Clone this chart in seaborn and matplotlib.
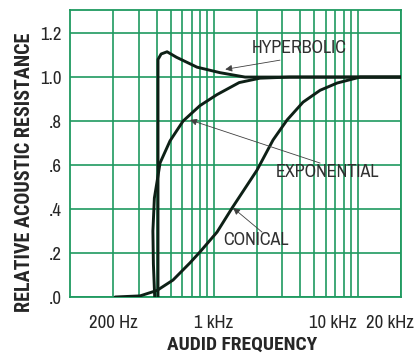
import numpy as np
import pandas as pd
import matplotlib
matplotlib.use("Agg")
import matplotlib.pyplot as plt
import matplotlib.transforms as mtransforms
import seaborn as sns

# Relative acoustic resistance of three horn flares vs. frequency (Hz)
conical_freq = [206, 307, 403, 520, 682, 801, 1052, 1340, 1996, 2580, 3230, 4170, 5480, 7200, 10400, 20000]
conical_res = [0.0, 0.005, 0.03, 0.077, 0.155, 0.205, 0.295, 0.405, 0.577, 0.714, 0.805, 0.886, 0.94, 0.973, 1.0, 1.0]

exponential_freq = [388, 380, 377, 386, 423, 496, 611, 800, 1050, 1500, 2090, 3370, 20000]
exponential_res = [0.0, 0.15, 0.3, 0.45, 0.61, 0.71, 0.80, 0.87, 0.92, 0.975, 0.995, 1.0, 1.0]

hyperbolic_freq = [409, 409, 430, 473, 550, 764, 1104, 1648, 20000]
hyperbolic_res = [0.0, 1.08, 1.105, 1.115, 1.09, 1.045, 1.02, 1.0, 1.0]

x_ticks = [200, 1000, 10000, 20000]
x_tick_labels = ["200 Hz", "1 kHz", "10 kHz", "20 kHz"]
y_ticks = [0.0, 0.2, 0.4, 0.6, 0.8, 1.0, 1.2]
y_tick_labels = [".0", ".2", ".4", ".6", ".8", "1.0", "1.2"]

frames = []
for name, f, r in [("CONICAL", conical_freq, conical_res),
                   ("EXPONENTIAL", exponential_freq, exponential_res),
                   ("HYPERBOLIC", hyperbolic_freq, hyperbolic_res)]:
    frames.append(pd.DataFrame({"freq": f, "res": r, "horn": name}))
df = pd.concat(frames, ignore_index=True)

sns.set_theme(style="white")
narrow = ["Archivo Narrow", "Roboto Condensed", "DejaVu Sans"]
bold_narrow = ["Roboto Condensed", "DejaVu Sans"]
plt.rcParams["font.family"] = narrow

GRID = "#1f9a60"
INK = "#0e2016"
TXT = "#262626"

fig = plt.figure(figsize=(4.17, 3.53), dpi=100)
ax = fig.add_axes([70 / 417, 1 - 297 / 353, (401 - 70) / 417, (297 - 10) / 353])

ax.set_xscale("log")
ax.set_xlim(100, 20000)
ax.set_ylim(0, 1.305)

# log grid: 2..9 per decade up to 10 kHz
minor = [m * d for d in (100, 1000) for m in range(2, 10)] + [10000]
ax.set_xticks(minor, minor=True)
ax.set_xticks(x_ticks)
ax.set_xticklabels(x_tick_labels)
ax.set_yticks(y_ticks)
ax.set_yticklabels(y_tick_labels)
ax.grid(which="both", axis="x", color=GRID, lw=1.2)
ax.grid(which="major", axis="y", color=GRID, lw=1.2)
for s in ax.spines.values():
    s.set_color(GRID)
    s.set_linewidth(1.3)

sns.lineplot(data=df, x="freq", y="res", hue="horn", units="horn",
             palette={"CONICAL": INK, "EXPONENTIAL": INK, "HYPERBOLIC": INK},
             sort=False, estimator=None, lw=2.1, legend=False, ax=ax, zorder=5)

ax.tick_params(axis="x", which="major", length=7, width=1.2, color=GRID,
               direction="out", pad=6, labelsize=13.5, labelcolor=TXT)
ax.tick_params(axis="x", which="minor", length=0)
ax.tick_params(axis="y", length=0, pad=6, labelsize=13.5, labelcolor=TXT)
ax.set_xlabel("")
ax.set_ylabel("")

# nudge crowded high-frequency labels leftwards
shifts = {"10 kHz": -25, "20 kHz": -11}
for lab in ax.get_xticklabels():
    dx = shifts.get(lab.get_text(), 0)
    if dx:
        lab.set_transform(lab.get_transform() +
                          mtransforms.ScaledTranslation(dx / 100, 0, fig.dpi_scale_trans))

fig.text(25 / 417, 1 - 172 / 353, "RELATIVE ACOUSTIC RESISTANCE", rotation=90,
         ha="center", va="center", fontsize=14.5, fontweight="bold", color=TXT,
         family=bold_narrow)
fig.text(242 / 417, 1 - 345 / 353, "AUDID FREQUENCY", ha="center", va="center",
         fontsize=14, fontweight="bold", color=TXT, family=bold_narrow)

# curve labels with pointer arrows
labels = [("HYPERBOLIC", (3910, 1.132), (2884, 1.077), (1200, 1.035)),
          ("EXPONENTIAL", (6120, 0.568), (5480, 0.609), (683, 0.805)),
          ("CONICAL", (1963, 0.259), (2163, 0.295), (1361, 0.405))]
for text, pos, tail, head in labels:
    ax.text(pos[0], pos[1], text, ha="center", va="center", fontsize=13,
            color="#303030", zorder=6)
    ax.annotate("", xy=head, xytext=tail,
                arrowprops=dict(arrowstyle="-|>", lw=0.6, color="#404040",
                                mutation_scale=10, shrinkA=0, shrinkB=0),
                zorder=7)

fig.savefig("out.png", dpi=100, facecolor="white")
